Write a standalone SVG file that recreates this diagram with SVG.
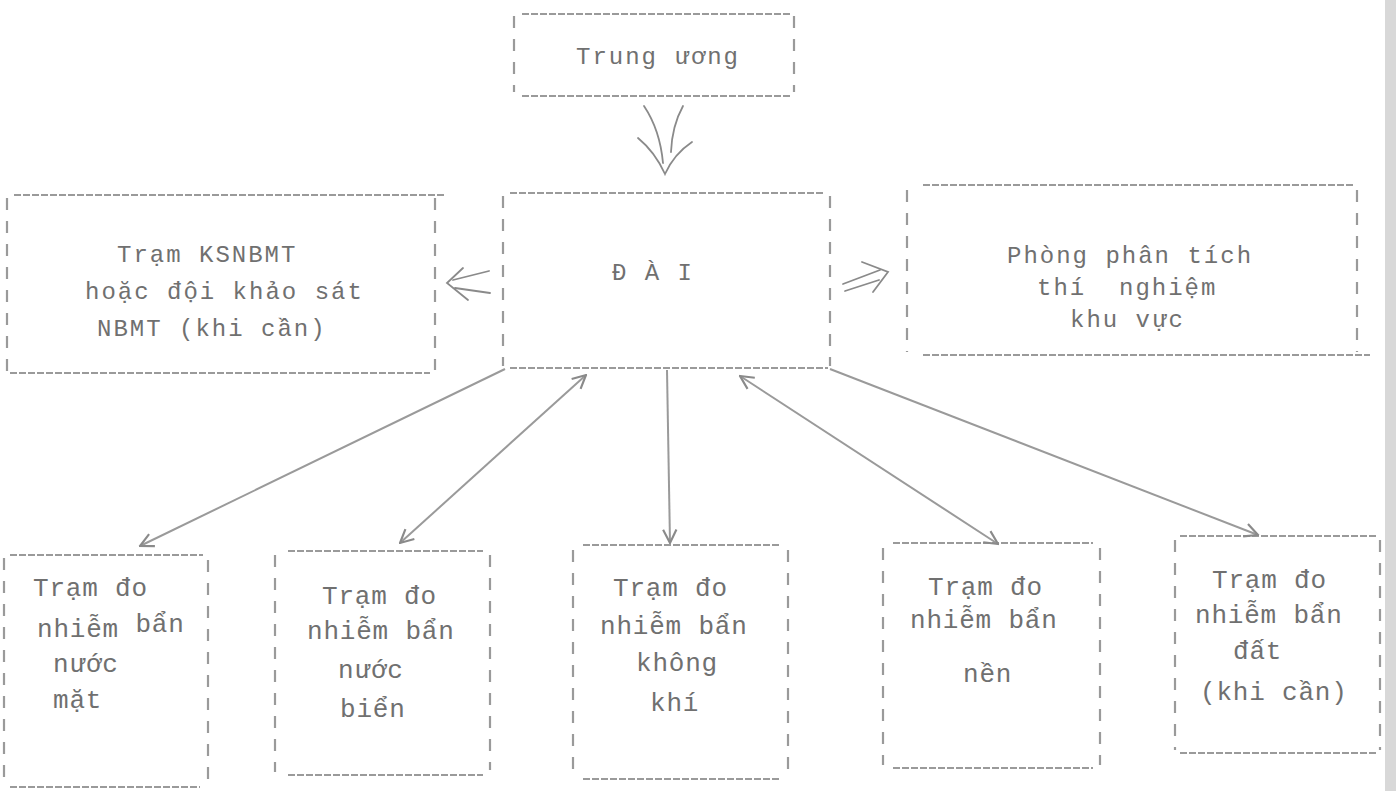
<svg xmlns="http://www.w3.org/2000/svg" width="1396" height="791" viewBox="0 0 1396 791">
<defs>
<marker id="ah" viewBox="0 0 12 12" refX="11" refY="6" markerWidth="16" markerHeight="16" markerUnits="userSpaceOnUse" orient="auto-start-reverse">
<path d="M1,1 L11,6 L1,11" fill="none" stroke="#8a8a8a" stroke-width="1.6"/>
</marker>
</defs>
<style>
.h{stroke:#9a9a9a;stroke-width:2;stroke-dasharray:7 2;fill:none}
.v{stroke:#9a9a9a;stroke-width:2.2;stroke-dasharray:12 11;fill:none}
.t{font-family:"Liberation Mono","DejaVu Sans Mono",monospace;font-size:24px;letter-spacing:2px;fill:#707070;white-space:pre}
.b{font-family:"Liberation Mono","DejaVu Sans Mono",monospace;font-size:26px;letter-spacing:0.8px;fill:#707070;white-space:pre}
.c{stroke:#9a9a9a;stroke-width:2;fill:none}
.c2{stroke:#8a8a8a;stroke-width:1.8;fill:none;stroke-linecap:round}
</style>
<rect width="1396" height="791" fill="#ffffff"/>
<rect x="1385" y="0" width="11" height="791" fill="#d8d8d8"/>

<g id="trung-uong">
<line class="h" x1="522" y1="14" x2="790" y2="14"/>
<line class="h" x1="522" y1="96" x2="790" y2="96"/>
<line class="v" x1="514" y1="16" x2="514" y2="92"/>
<line class="v" x1="794" y1="16" x2="794" y2="92"/>
<text class="t" x="576" y="64">Trung ương</text>
</g>

<g id="dai">
<line class="h" x1="510" y1="193" x2="825" y2="193"/>
<line class="h" x1="510" y1="368" x2="828" y2="368"/>
<line class="v" x1="503" y1="196" x2="503" y2="366"/>
<line class="v" x1="830" y1="196" x2="830" y2="366"/>
<text class="t" x="612" y="280">Đ À I</text>
</g>

<g id="tram-ksnbmt">
<line class="h" x1="14" y1="195" x2="446" y2="195"/>
<line class="h" x1="10" y1="373" x2="430" y2="373"/>
<line class="v" x1="7" y1="198" x2="7" y2="372"/>
<line class="v" x1="435" y1="198" x2="435" y2="370"/>
<text class="t" x="117" y="262">Trạm KSNBMT</text>
<text class="t" x="85" y="299">hoặc đội khảo sát</text>
<text class="t" x="97" y="336">NBMT (khi cần)</text>
</g>

<g id="phong-phan-tich">
<line class="h" x1="923" y1="185" x2="1353" y2="185"/>
<line class="h" x1="923" y1="355" x2="1370" y2="355"/>
<line class="v" x1="907" y1="190" x2="907" y2="352"/>
<line class="v" x1="1357" y1="190" x2="1357" y2="352"/>
<text class="t" x="1007" y="263">Phòng phân tích</text>
<text class="t" x="1037" y="295">thí  nghiệm</text>
<text class="t" x="1070" y="327">khu vực</text>
</g>

<g id="tram-nuoc-mat">
<line class="h" x1="10" y1="555" x2="203" y2="555"/>
<line class="h" x1="10" y1="787" x2="200" y2="787"/>
<line class="v" x1="4" y1="558" x2="4" y2="784"/>
<line class="v" x1="208" y1="560" x2="208" y2="780"/>
<text class="b" x="33" y="596">Trạm đo</text>
<text class="b" x="37" y="637">nhiễm <tspan dy="-5">bẩn</tspan></text>
<text class="b" x="53" y="672">nước</text>
<text class="b" x="53" y="708">mặt</text>
</g>

<g id="tram-nuoc-bien">
<line class="h" x1="288" y1="551" x2="483" y2="551"/>
<line class="h" x1="288" y1="775" x2="483" y2="775"/>
<line class="v" x1="275" y1="555" x2="275" y2="772"/>
<line class="v" x1="490" y1="555" x2="490" y2="770"/>
<text class="b" x="322" y="604">Trạm đo</text>
<text class="b" x="307" y="639">nhiễm bẩn</text>
<text class="b" x="338" y="678">nước</text>
<text class="b" x="340" y="717">biển</text>
</g>

<g id="tram-khong-khi">
<line class="h" x1="583" y1="545" x2="780" y2="545"/>
<line class="h" x1="583" y1="779" x2="780" y2="779"/>
<line class="v" x1="573" y1="550" x2="573" y2="775"/>
<line class="v" x1="788" y1="550" x2="788" y2="772"/>
<text class="b" x="613" y="596">Trạm đo</text>
<text class="b" x="600" y="634">nhiễm bẩn</text>
<text class="b" x="636" y="671">không</text>
<text class="b" x="650" y="711">khí</text>
</g>

<g id="tram-nen">
<line class="h" x1="893" y1="543" x2="1093" y2="543"/>
<line class="h" x1="893" y1="768" x2="1093" y2="768"/>
<line class="v" x1="883" y1="548" x2="883" y2="765"/>
<line class="v" x1="1100" y1="548" x2="1100" y2="765"/>
<text class="b" x="928" y="595">Trạm đo</text>
<text class="b" x="910" y="628">nhiễm bẩn</text>
<text class="b" x="963" y="682">nền</text>
</g>

<g id="tram-dat">
<line class="h" x1="1180" y1="536" x2="1378" y2="536"/>
<line class="h" x1="1180" y1="753" x2="1378" y2="753"/>
<line class="v" x1="1175" y1="540" x2="1175" y2="750"/>
<line class="v" x1="1380" y1="540" x2="1380" y2="750"/>
<text class="b" x="1212" y="588">Trạm đo</text>
<text class="b" x="1195" y="623">nhiễm bẩn</text>
<text class="b" x="1233" y="659">đất</text>
<text class="b" x="1200" y="700">(khi cần)</text>
</g>

<g id="connectors">
<path class="c2" d="M644,106 Q660,130 663,163"/>
<path class="c2" d="M683,106 Q672,126 671,152"/>
<path class="c2" d="M638,138 Q655,152 665,174 Q674,154 692,142"/>
<path class="c2" d="M463,268 L447,283 L468,300"/>
<path class="c2" d="M453,280 L489,271"/>
<path class="c2" d="M455,288 L490,293"/>
<path class="c2" d="M843,284 L880,270"/>
<path class="c2" d="M845,291 L879,280"/>
<path class="c2" d="M862,262 L888,272 L873,292"/>
<line class="c" x1="505" y1="369" x2="140" y2="546" marker-end="url(#ah)"/>
<line class="c" x1="586" y1="375" x2="400" y2="543" marker-start="url(#ah)" marker-end="url(#ah)"/>
<line class="c" x1="667" y1="370" x2="670" y2="543" marker-end="url(#ah)"/>
<line class="c" x1="740" y1="376" x2="998" y2="544" marker-start="url(#ah)" marker-end="url(#ah)"/>
<line class="c" x1="830" y1="369" x2="1258" y2="535" marker-end="url(#ah)"/>
</g>
</svg>
